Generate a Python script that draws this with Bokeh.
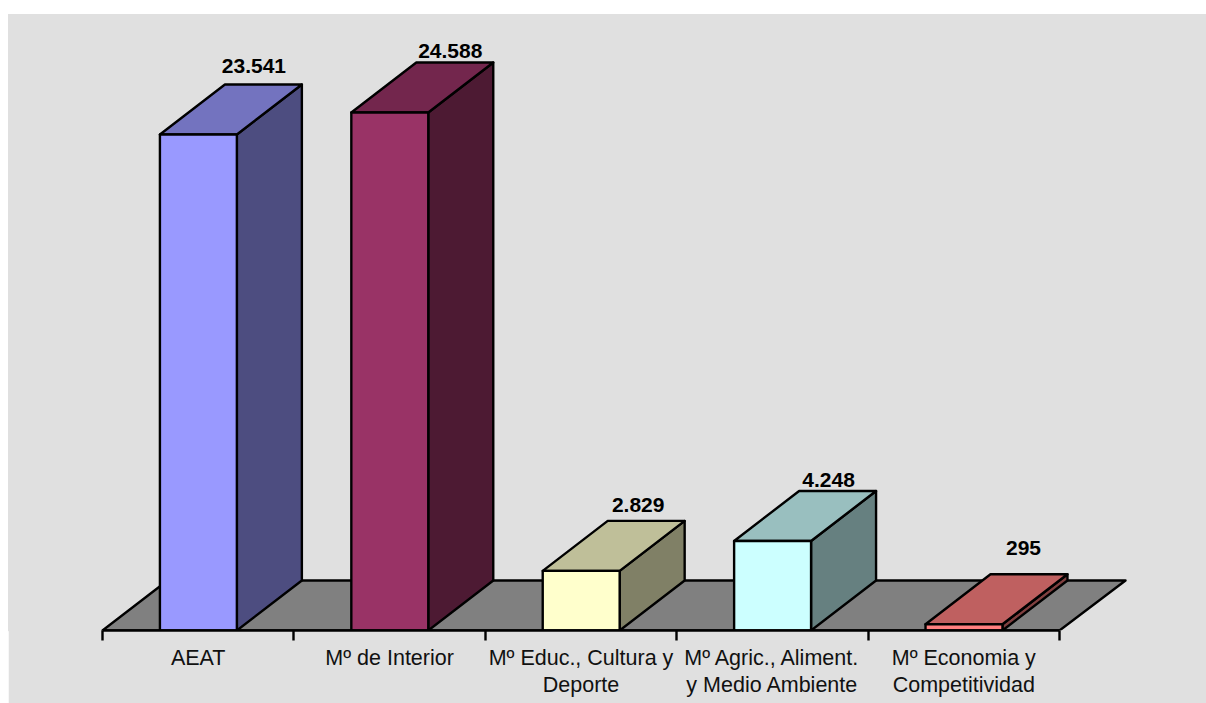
from bokeh.plotting import figure
from bokeh.models import Range1d, LinearAxis, FixedTicker, ColumnDataSource
from bokeh.core.properties import value as V
from bokeh.embed import file_html
from bokeh.resources import INLINE

categories = ["AEAT", "Mº de Interior", "Mº Educ., Cultura y\nDeporte",
              "Mº Agric., Aliment.\ny Medio Ambiente", "Mº Economia y\nCompetitividad"]
values = [23541, 24588, 2829, 4248, 295]
value_labels = ["23.541", "24.588", "2.829", "4.248", "295"]
front_colors = ["#9999FF", "#993366", "#FFFFCC", "#CCFFFF", "#FF8080"]
top_colors = ["#7373BF", "#73264D", "#BFBF99", "#99BFBF", "#BF6060"]
side_colors = ["#4D4D80", "#4D1A33", "#808066", "#668080", "#804040"]

# Pixel layout of the frame
W, H = 1198, 689
PX_PER_CAT = 191.4
PX_PER_VAL = 0.02107
X0_PX, Y0_PX = 94, 616      # position of the category origin inside the figure
DEPTH_X = 65 / PX_PER_CAT
DEPTH_Y = 50 / PX_PER_VAL
BAR_L, BAR_W = 0.300, 0.402
BG = "#E0E0E0"
FONT = "Liberation Sans"
LW = 2.4

p = figure(width=W, height=H, output_backend="svg", toolbar_location=None,
           x_range=Range1d(-X0_PX / PX_PER_CAT, (W - X0_PX) / PX_PER_CAT),
           y_range=Range1d(0, Y0_PX / PX_PER_VAL),
           min_border_left=0, min_border_right=0, min_border_top=0,
           min_border_bottom=H - Y0_PX, x_axis_type=None, y_axis_type=None,
           background_fill_color=BG, border_fill_color=BG,
           outline_line_color=BG, outline_line_width=1.5)
p.margin = (14, 0, 0, 8)
p.grid.visible = False

n = len(values)
# floor
p.patch([0, DEPTH_X, n + 0.345, n], [0, DEPTH_Y, DEPTH_Y, 0],
        fill_color="#808080", line_color="black", line_width=LW, line_join="round")

# bars: side, top, front
xs_f, ys_f, xs_t, ys_t, xs_s, ys_s = [], [], [], [], [], []
for i, v in enumerate(values):
    l, r = i + BAR_L, i + BAR_L + BAR_W
    xs_f.append([l, r, r, l]); ys_f.append([0, 0, v, v])
    xs_t.append([l, r, r + DEPTH_X, l + DEPTH_X]); ys_t.append([v, v, v + DEPTH_Y, v + DEPTH_Y])
    xs_s.append([r, r + DEPTH_X, r + DEPTH_X, r]); ys_s.append([0, DEPTH_Y, v + DEPTH_Y, v])
for xs, ys, cols in [(xs_s, ys_s, side_colors), (xs_t, ys_t, top_colors), (xs_f, ys_f, front_colors)]:
    p.patches(xs, ys, fill_color=cols, line_color="black", line_width=LW, line_join="round")

# value labels (hand placed in the original, hence per-label offsets)
lab_dx = [55.5, 60.5, 57, 56, 59.5]
lab_dy = [-18, -11, -16, -11, -26]
src = ColumnDataSource(dict(
    x=[i + BAR_L + BAR_W / 2 for i in range(n)],
    y=[v + DEPTH_Y for v in values],
    t=value_labels, xo=lab_dx, yo=lab_dy))
p.text("x", "y", text="t", x_offset="xo", y_offset="yo", source=src,
       text_font=V(FONT), text_font_style="bold", text_font_size="21px",
       text_align="center", text_baseline="middle", text_color="black")

# category axis: ticks at boundaries, labels at centres
ax = LinearAxis(ticker=FixedTicker(ticks=[i + 0.5 for i in range(n)],
                                   minor_ticks=list(range(n + 1))),
                major_label_overrides={i + 0.5: c for i, c in enumerate(categories)})
ax.bounds = (0, n)
ax.axis_line_color = "black"; ax.axis_line_width = LW
ax.major_tick_in = 0; ax.major_tick_out = 0
ax.minor_tick_in = 0; ax.minor_tick_out = 10
ax.minor_tick_line_color = "black"; ax.minor_tick_line_width = LW
ax.major_label_text_font = FONT
ax.major_label_text_font_size = "21.5px"
ax.major_label_text_color = "#111111"
ax.major_label_text_line_height = 1.125
ax.major_label_standoff = 5
p.add_layout(ax, "below")

open("out.html", "w").write(file_html(p, INLINE))
